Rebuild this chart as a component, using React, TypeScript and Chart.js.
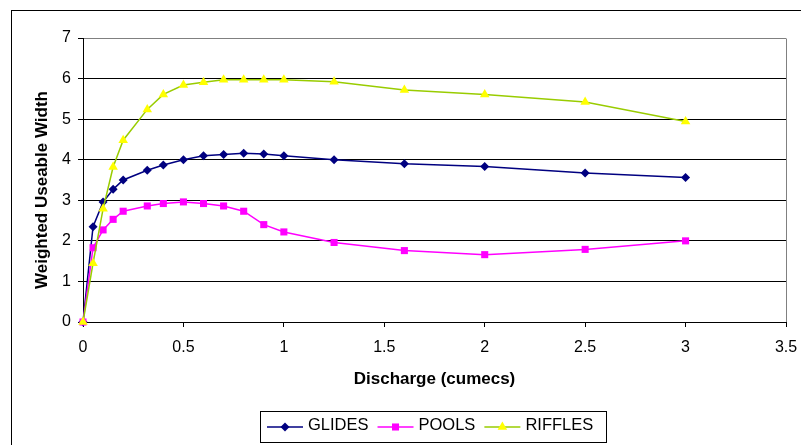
import React, { useEffect, useRef } from "react";
import { Chart, registerables } from "chart.js";
Chart.register(...registerables);

const xValues = [0, 0.05, 0.1, 0.15, 0.2, 0.32, 0.4, 0.5, 0.6, 0.7, 0.8, 0.9, 1.0, 1.25, 1.6, 2.0, 2.5, 3.0];
const glides = [0, 2.35, 2.96, 3.27, 3.5, 3.74, 3.87, 4.0, 4.1, 4.13, 4.16, 4.14, 4.1, 4.0, 3.9, 3.83, 3.67, 3.56];
const pools = [0, 1.83, 2.27, 2.53, 2.73, 2.86, 2.92, 2.96, 2.92, 2.86, 2.73, 2.4, 2.22, 1.96, 1.76, 1.66, 1.79, 2.0];
const riffles = [0, 1.45, 2.79, 3.82, 4.48, 5.24, 5.61, 5.84, 5.91, 5.97, 5.97, 5.97, 5.97, 5.92, 5.72, 5.61, 5.42, 4.94];
const seriesNames = ["GLIDES", "POOLS", "RIFFLES"];
const xTitle = "Discharge (cumecs)";
const yTitle = "Weighted Useable Width";

const FONT = 'Arial, "Liberation Sans", sans-serif';

const toPoints = (ys: number[]) => xValues.map((x, i) => ({ x, y: ys[i] }));

function drawMarker(ctx: CanvasRenderingContext2D, style: string, x: number, y: number, r: number, color: string) {
  ctx.save();
  ctx.fillStyle = color;
  ctx.beginPath();
  if (style === "rectRot") {
    ctx.moveTo(x, y - r);
    ctx.lineTo(x + r, y);
    ctx.lineTo(x, y + r);
    ctx.lineTo(x - r, y);
  } else if (style === "rect") {
    const s = r * Math.SQRT1_2;
    ctx.rect(x - s, y - s, 2 * s, 2 * s);
  } else {
    const h = r * 1.5;
    const w = r * Math.sqrt(3) / 2;
    ctx.moveTo(x, y - r);
    ctx.lineTo(x + w, y + h - r);
    ctx.lineTo(x - w, y + h - r);
  }
  ctx.closePath();
  ctx.fill();
  ctx.restore();
}

const decorPlugin = {
  id: "decor",
  beforeDatasetsDraw(chart: any) {
    const { ctx, chartArea } = chart;
    ctx.save();
    ctx.strokeStyle = "#808080";
    ctx.lineWidth = 1;
    ctx.beginPath();
    const r = Math.round(chartArea.right) + 0.5;
    ctx.moveTo(r, Math.round(chartArea.top) + 0.5);
    ctx.lineTo(r, Math.round(chartArea.bottom));
    ctx.stroke();
    ctx.restore();
  },
  afterDraw(chart: any) {
    const { ctx, chartArea } = chart;
    ctx.save();
    ctx.strokeStyle = "#000";
    ctx.lineWidth = 1;
    ctx.strokeRect(11.5, 10.5, 900, 600);

    ctx.fillStyle = "#000";
    ctx.font = `bold 17px ${FONT}`;
    ctx.textAlign = "center";
    ctx.textBaseline = "middle";
    ctx.fillText(xTitle, (chartArea.left + chartArea.right) / 2, 379);
    ctx.save();
    ctx.translate(42, 190);
    ctx.rotate(-Math.PI / 2);
    ctx.fillText(yTitle, 0, 0);
    ctx.restore();

    ctx.strokeStyle = "#000";
    ctx.strokeRect(260.5, 411.5, 346, 31);
    ctx.font = `16.5px ${FONT}`;
    ctx.textAlign = "left";
    let x = 267;
    const ly = 427;
    chart.data.datasets.forEach((ds: any) => {
      ctx.strokeStyle = ds.borderColor;
      ctx.lineWidth = 1.5;
      ctx.beginPath();
      ctx.moveTo(x, ly);
      ctx.lineTo(x + 36, ly);
      ctx.stroke();
      drawMarker(ctx, ds.pointStyle, x + 18, ly, ds.pointRadius, ds.pointBackgroundColor);
      ctx.fillStyle = "#000";
      ctx.fillText(ds.label, x + 41, 425);
      x += 41 + ctx.measureText(ds.label).width + 9;
    });
    ctx.restore();
  },
};

export default function App() {
  const ref = useRef<HTMLCanvasElement>(null);
  useEffect(() => {
    if (!ref.current) return;
    const chart = new Chart(ref.current, {
      type: "line",
      data: {
        datasets: [
          {
            label: seriesNames[0],
            data: toPoints(glides),
            borderColor: "#000080",
            backgroundColor: "#000080",
            pointBackgroundColor: "#000080",
            pointBorderColor: "#000080",
            pointStyle: "rectRot",
            pointRadius: 4.5,
            pointBorderWidth: 0,
            borderWidth: 1.5,
            tension: 0,
            clip: false,
            order: 3,
          },
          {
            label: seriesNames[1],
            data: toPoints(pools),
            borderColor: "#FF00FF",
            backgroundColor: "#FF00FF",
            pointBackgroundColor: "#FF00FF",
            pointBorderColor: "#FF00FF",
            pointStyle: "rect",
            pointRadius: 5,
            pointBorderWidth: 0,
            borderWidth: 1.5,
            tension: 0,
            clip: false,
            order: 2,
          },
          {
            label: seriesNames[2],
            data: toPoints(riffles),
            borderColor: "#99CC00",
            backgroundColor: "#FFFF00",
            pointBackgroundColor: "#FFFF00",
            pointBorderColor: "#FFFF00",
            pointStyle: "triangle",
            pointRadius: 5.5,
            pointBorderWidth: 0,
            borderWidth: 1.5,
            tension: 0,
            clip: false,
            order: 1,
          },
        ] as any,
      },
      options: {
        animation: false,
        responsive: false,
        devicePixelRatio: 1,
        layout: { padding: { left: 0, top: 38, right: 15, bottom: 0 } },
        plugins: { legend: { display: false }, tooltip: { enabled: false } },
        scales: {
          x: {
            type: "linear",
            min: 0,
            max: 3.5,
            ticks: {
              stepSize: 0.5,
              color: "#000",
              font: { family: FONT, size: 16 },
              padding: 11,
              maxRotation: 0,
              callback: (v: any) => String(Math.round(Number(v) * 10) / 10),
            },
            grid: { drawOnChartArea: false, drawTicks: true, tickLength: 5, tickColor: "#000" },
            border: { display: true, color: "#000", width: 1 },
            afterFit: (s: any) => { s.height = 123; s.paddingLeft = 0; s.paddingRight = 0; },
          },
          y: {
            min: 0,
            max: 7,
            ticks: { stepSize: 1, color: "#000", font: { family: FONT, size: 16 }, padding: 7 },
            grid: {
              color: (c: any) => (c.tick && c.tick.value === 7 ? "#808080" : "#000"),
              lineWidth: 1,
              tickLength: 5,
              tickColor: "#000",
            },
            border: { display: true, color: "#000", width: 1 },
            afterFit: (s: any) => { s.width = 83; s.paddingTop = 0; s.paddingBottom = 0; },
          },
        },
      } as any,
      plugins: [decorPlugin],
    });
    return () => chart.destroy();
  }, []);
  return (
    <div style={{ position: "absolute", left: 0, top: 0, width: 801, height: 445, background: "#fff" }}>
      <canvas ref={ref} width={801} height={445} style={{ display: "block" }} />
    </div>
  );
}
